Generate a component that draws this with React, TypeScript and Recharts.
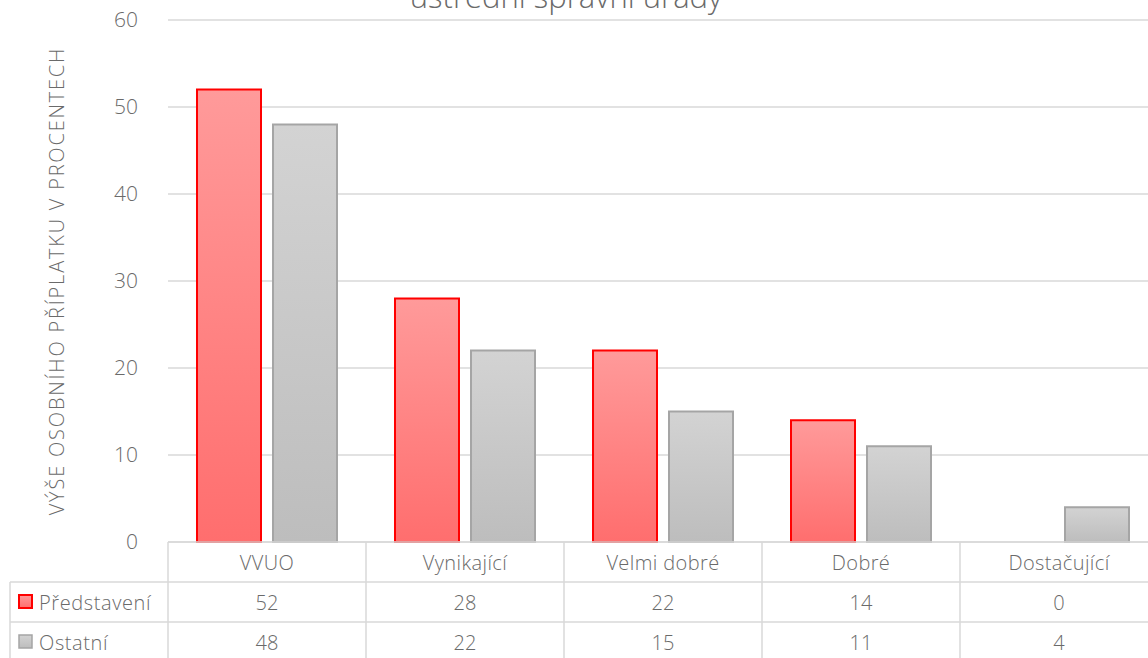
import { BarChart, Bar, XAxis, YAxis, CartesianGrid } from "recharts";

const categories = ["VVUO", "Vynikající", "Velmi dobré", "Dobré", "Dostačující"];
const predstaveni = [52, 28, 22, 14, 0];
const ostatni = [48, 22, 15, 11, 4];
const yTicks = [0, 10, 20, 30, 40, 50, 60];

const seriesNames = ["Představení", "Ostatní"];

const data = categories.map((name, i) => ({
  name,
  predstaveni: predstaveni[i],
  ostatni: ostatni[i],
}));

const FONT = "'Open Sans', 'Noto Sans', sans-serif";
const TEXT = "#6a6a6a";
const GRID = "#d9d9d9";
const FS = 20;

const CHART_W = 1160;
const CHART_H = 660;
const MARGIN = { top: 20, right: 2, bottom: 0, left: 0 };
const Y_AXIS_W = 168;
const ROW_H = 40;
const TABLE_LEFT = 10;
const COL_W = (CHART_W - MARGIN.left - MARGIN.right - Y_AXIS_W) / categories.length;

// data table drawn under each category: header cell + one value cell per series
function TableTick(props: any) {
  const { x, y, payload } = props;
  const i = payload.index;
  const left = x - COL_W / 2;
  const right = left + COL_W;
  const rows = [predstaveni, ostatni];
  return (
    <g fontFamily={FONT} fontSize={FS} fontWeight={300} fill={TEXT}>
      <line x1={left} y1={y} x2={left} y2={y + ROW_H * 3} stroke={GRID} strokeWidth={1.5} />
      {i === categories.length - 1 && (
        <line x1={right} y1={y} x2={right} y2={y + ROW_H * 3} stroke={GRID} strokeWidth={1.5} />
      )}
      <line x1={left} y1={y + ROW_H} x2={right} y2={y + ROW_H} stroke={GRID} strokeWidth={1.5} />
      <line x1={left} y1={y + ROW_H * 2} x2={right} y2={y + ROW_H * 2} stroke={GRID} strokeWidth={1.5} />
      <text x={x} y={y + ROW_H / 2} textAnchor="middle" dominantBaseline="central" letterSpacing={0.4}>
        {payload.value}
      </text>
      {rows.map((vals, r) => (
        <text
          key={r}
          x={x}
          y={y + ROW_H * (r + 1) + ROW_H / 2}
          textAnchor="middle"
          dominantBaseline="central"
        >
          {vals[i]}
        </text>
      ))}
      {i === 0 && (
        <g>
          <line x1={TABLE_LEFT} y1={y + ROW_H} x2={left} y2={y + ROW_H} stroke={GRID} strokeWidth={1.5} />
          <line x1={TABLE_LEFT} y1={y + ROW_H * 2} x2={left} y2={y + ROW_H * 2} stroke={GRID} strokeWidth={1.5} />
          <line x1={TABLE_LEFT} y1={y + ROW_H} x2={TABLE_LEFT} y2={y + ROW_H * 3} stroke={GRID} strokeWidth={1.5} />
          {seriesNames.map((name, r) => {
            const cy = y + ROW_H * (r + 1) + ROW_H / 2;
            return (
              <g key={name}>
                <rect
                  x={TABLE_LEFT + 9}
                  y={cy - 7}
                  width={13}
                  height={13}
                  fill={r === 0 ? "url(#redFill)" : "url(#grayFill)"}
                  stroke={r === 0 ? "#ff0000" : "#a5a5a5"}
                  strokeWidth={r === 0 ? 2 : 1.5}
                />
                <text x={TABLE_LEFT + 29} y={cy} dominantBaseline="central" letterSpacing={0.6}>
                  {name}
                </text>
              </g>
            );
          })}
        </g>
      )}
    </g>
  );
}

export default function App() {
  return (
    <div
      style={{
        position: "absolute",
        left: 0,
        top: 0,
        width: 1148,
        height: 658,
        overflow: "hidden",
        background: "#fff",
      }}
    >
      <svg
        width={1148}
        height={40}
        style={{ position: "absolute", left: 0, top: 0, zIndex: 1 }}
      >
        <text
          x={566}
          y={8}
          textAnchor="middle"
          fontFamily={FONT}
          fontWeight={300}
          fontSize={31}
          fill={TEXT}
        >
          ústřední správní úřady
        </text>
      </svg>
      <BarChart
        width={CHART_W}
        height={CHART_H}
        data={data}
        margin={MARGIN}
        barSize={64}
        barGap={12}
      >
        <defs>
          <linearGradient id="redFill" x1="0" y1="0" x2="0" y2="1">
            <stop offset="0%" stopColor="#ff9a9a" />
            <stop offset="100%" stopColor="#ff6e6e" />
          </linearGradient>
          <linearGradient id="grayFill" x1="0" y1="0" x2="0" y2="1">
            <stop offset="0%" stopColor="#d3d3d3" />
            <stop offset="100%" stopColor="#bdbdbd" />
          </linearGradient>
        </defs>
        <CartesianGrid vertical={false} stroke={GRID} strokeWidth={1.5} />
        <XAxis
          dataKey="name"
          height={CHART_H - 542}
          axisLine={{ stroke: GRID, strokeWidth: 1.5 }}
          tickLine={false}
          tickSize={0}
          tickMargin={0}
          interval={0}
          tick={<TableTick />}
        />
        <YAxis
          width={Y_AXIS_W}
          domain={[0, 60]}
          ticks={yTicks}
          axisLine={false}
          tickLine={false}
          tickMargin={24}
          tick={{ fill: TEXT, fontSize: 21, fontWeight: 300, fontFamily: FONT }}
          label={{
            value: "VÝŠE OSOBNÍHO PŘÍPLATKU V PROCENTECH",
            angle: -90,
            position: "insideLeft",
            offset: 57,
            style: {
              textAnchor: "middle",
              fill: TEXT,
              fontSize: 20,
              fontWeight: 300,
              letterSpacing: 1.8,
              fontFamily: FONT,
            },
          }}
        />
        <Bar
          dataKey="predstaveni"
          name="Představení"
          fill="url(#redFill)"
          stroke="#ff0000"
          strokeWidth={2}
          isAnimationActive={false}
        />
        <Bar
          dataKey="ostatni"
          name="Ostatní"
          fill="url(#grayFill)"
          stroke="#a5a5a5"
          strokeWidth={2}
          isAnimationActive={false}
        />
      </BarChart>
    </div>
  );
}
